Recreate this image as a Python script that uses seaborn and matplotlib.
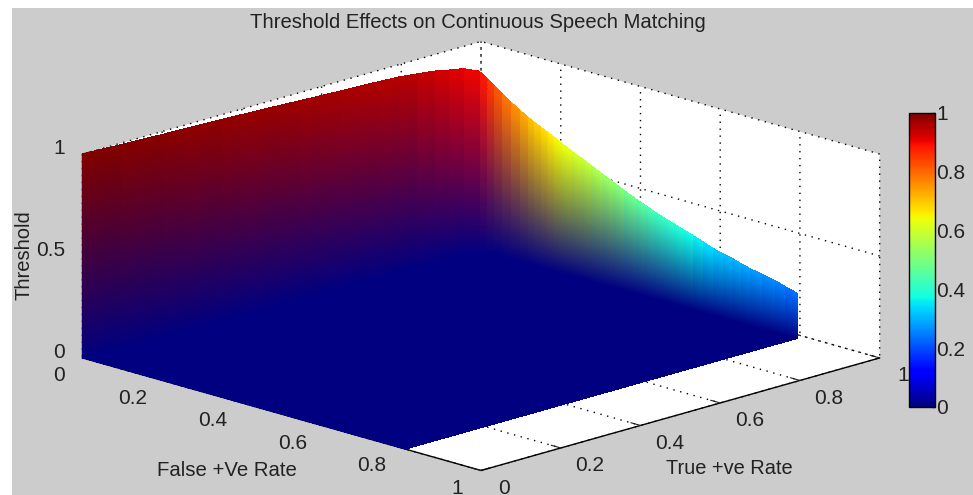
import numpy as np
import matplotlib
matplotlib.use("Agg")
import matplotlib.pyplot as plt
from matplotlib.cm import ScalarMappable
from matplotlib.colors import Normalize
from matplotlib.patches import Rectangle
import seaborn as sns

# operating curve
false_pos = [0.0, 0.001, 0.002, 0.003, 0.004, 0.0045, 0.005, 0.0055, 0.006, 0.0065, 0.007, 0.0075,
             0.008, 0.008, 0.008, 0.0085, 0.009, 0.009, 0.009, 0.0095, 0.010, 0.025, 0.035,
             0.05, 0.07, 0.092, 0.113, 0.135, 0.15, 0.167, 0.183, 0.2, 0.22, 0.242, 0.267, 0.292,
             0.32, 0.347, 0.375, 0.404, 0.428, 0.451, 0.475, 0.499, 0.524, 0.549, 0.574, 0.599,
             0.622, 0.646, 0.668, 0.691, 0.722, 0.753, 0.78, 0.81]
true_pos = [0.0, 0.048, 0.096, 0.146, 0.196, 0.246, 0.297, 0.344, 0.39, 0.44, 0.49, 0.54,
            0.59, 0.64, 0.69, 0.737, 0.785, 0.83, 0.875, 0.91, 0.945, 0.97, 0.98,
            0.985, 0.985, 0.985, 0.985, 0.985, 0.985, 0.985, 0.985, 0.985, 0.985, 0.985, 0.985, 0.985,
            0.985, 0.985, 0.985, 0.985, 0.985, 0.985, 0.985, 0.985, 0.985, 0.985, 0.985, 0.985,
            0.985, 0.985, 0.985, 0.985, 0.985, 0.985, 0.985, 0.985]
threshold = [1.0, 0.998, 0.995, 0.993, 0.99, 0.988, 0.985, 0.983, 0.98, 0.977, 0.973, 0.969,
             0.965, 0.961, 0.958, 0.954, 0.95, 0.94, 0.929, 0.915, 0.903, 0.885, 0.85,
             0.817, 0.787, 0.758, 0.733, 0.708, 0.693, 0.678, 0.662, 0.647, 0.626, 0.605, 0.583, 0.56,
             0.534, 0.509, 0.483, 0.458, 0.44, 0.421, 0.405, 0.389, 0.373, 0.357, 0.34, 0.322,
             0.311, 0.30, 0.287, 0.275, 0.263, 0.251, 0.235, 0.219]

rate_ticks = [0, 0.2, 0.4, 0.6, 0.8, 1]
rate_labels = ["0", "0.2", "0.4", "0.6", "0.8", "1"]
thr_ticks = [0, 0.5, 1]
thr_labels = ["0", "0.5", "1"]
bar_ticks = [0, 0.2, 0.4, 0.6, 0.8, 1]
bar_labels = ["0", "0.2", "0.4", "0.6", "0.8", "1"]

sns.set_style("white")
plt.rcParams["font.family"] = ["Liberation Sans", "DejaVu Sans"]
plt.rcParams["grid.color"] = "black"
plt.rcParams["grid.linestyle"] = (0, (1, 4))
plt.rcParams["grid.linewidth"] = 1.0
plt.rcParams["axes.edgecolor"] = "black"
plt.rcParams["xtick.color"] = "#222222"
plt.rcParams["ytick.color"] = "#222222"
plt.rcParams["xtick.bottom"] = True
plt.rcParams["ytick.left"] = True
plt.rcParams["text.color"] = "#222222"

W, H = 973, 495
fig = plt.figure(figsize=(W / 100, H / 100), dpi=100, facecolor="white")
fig.add_artist(Rectangle((12 / W, 0), (W - 12) / W, (H - 8) / H, transform=fig.transFigure,
                         facecolor="#cccccc", edgecolor="none", zorder=-5))

# big square axes: 3d artists get clipped to the axes box
ax = fig.add_axes([69.7 / W, -172.3 / H, 801 / W, 801 / H], projection="3d", proj_type="ortho",
                  computed_zorder=False)
ax.set_facecolor("none")
ax.view_init(elev=16.4, azim=-45)
ax.set_box_aspect((1, 1, 0.377), zoom=1.0)

jet = plt.get_cmap("jet")
fp = np.array(false_pos)
tp = np.array(true_pos)
thr = np.array(threshold)

# flat part at threshold 0
fx = np.vstack([fp, np.full_like(fp, fp.max())])
fy = np.vstack([tp, tp])
ax.plot_surface(fx, fy, np.zeros_like(fx), color=jet(0.0), shade=False, linewidth=0,
                antialiased=False, rstride=1, cstride=1)

# curtain from the curve down to 0, colours blended as in interp shading
fade = np.linspace(0, 1, 61)
cx = np.repeat(fp[:, None], fade.size, axis=1)
cy = np.repeat(tp[:, None], fade.size, axis=1)
cz = np.outer(thr, 1 - fade)
top = np.array(jet(thr))
low = np.array(jet(0.0))
cols = top[:, None, :] * (1 - fade)[None, :, None] + low[None, None, :] * fade[None, :, None]
ax.plot_surface(cx, cy, cz, facecolors=cols, shade=False, linewidth=0,
                antialiased=False, rstride=1, cstride=1)

ax.set_xlim(0, 1)
ax.set_ylim(0, 1)
ax.set_zlim(0, 1)
ax.set_xticks(rate_ticks, rate_labels, fontsize=15)
ax.set_yticks(rate_ticks, rate_labels, fontsize=15)
ax.set_zticks(thr_ticks, thr_labels, fontsize=15)
ax.tick_params(axis="x", pad=14)
ax.tick_params(axis="y", pad=14)
ax.tick_params(axis="z", pad=-1.5)
ax.zaxis.set_ticks_position("lower")

for t in ax.xaxis.get_major_ticks() + ax.yaxis.get_major_ticks():
    t.label1.set_va("baseline")
for t in ax.zaxis.get_major_ticks():
    t.label1.set_ha("right")
    t.label1.set_va("baseline")

# end labels hug the corners a bit more
xt = ax.xaxis.get_major_ticks()
yt = ax.yaxis.get_major_ticks()
xt[0].label1.set_ha("left")
xt[-1].label1.set_ha("left")
yt[0].label1.set_ha("right")
yt[-1].label1.set_ha("right")

for axis in (ax.xaxis, ax.yaxis, ax.zaxis):
    axis.set_pane_color((1, 1, 1, 1))
    axis.pane.set_edgecolor("none")
    axis.line.set_color("black")
    axis.line.set_linewidth(1.0)
    axis._axinfo["tick"]["inward_factor"] = 0.0
    axis._axinfo["tick"]["outward_factor"] = 0.3

# horizontal / rotated labels sit where the 3d axis can't put them
fig.text(226.5 / W, 1 - 470 / H, "False +Ve Rate", fontsize=14.7, ha="center", va="center")
fig.text(729 / W, 1 - 468 / H, "True +ve Rate", fontsize=14.4, ha="center", va="center")
fig.text(24 / W, 1 - 255 / H, "Threshold", fontsize=14.5, rotation=90, ha="center", va="center")
fig.text(477.5 / W, 1 - 23 / H, "Threshold Effects on Continuous Speech Matching",
         fontsize=14.6, ha="center", va="center")

cax = fig.add_axes([909 / W, 1 - 407 / H, 26 / W, 294 / H])
cb = fig.colorbar(ScalarMappable(norm=Normalize(0, 1), cmap=jet), cax=cax)
cb.set_ticks(bar_ticks, labels=bar_labels)
cb.ax.tick_params(direction="in", length=2, width=1, labelsize=15, pad=1, right=True, left=False)
cb.outline.set_edgecolor("black")
cb.outline.set_linewidth(1)

fig.savefig("out.png", dpi=100, facecolor=fig.get_facecolor())
